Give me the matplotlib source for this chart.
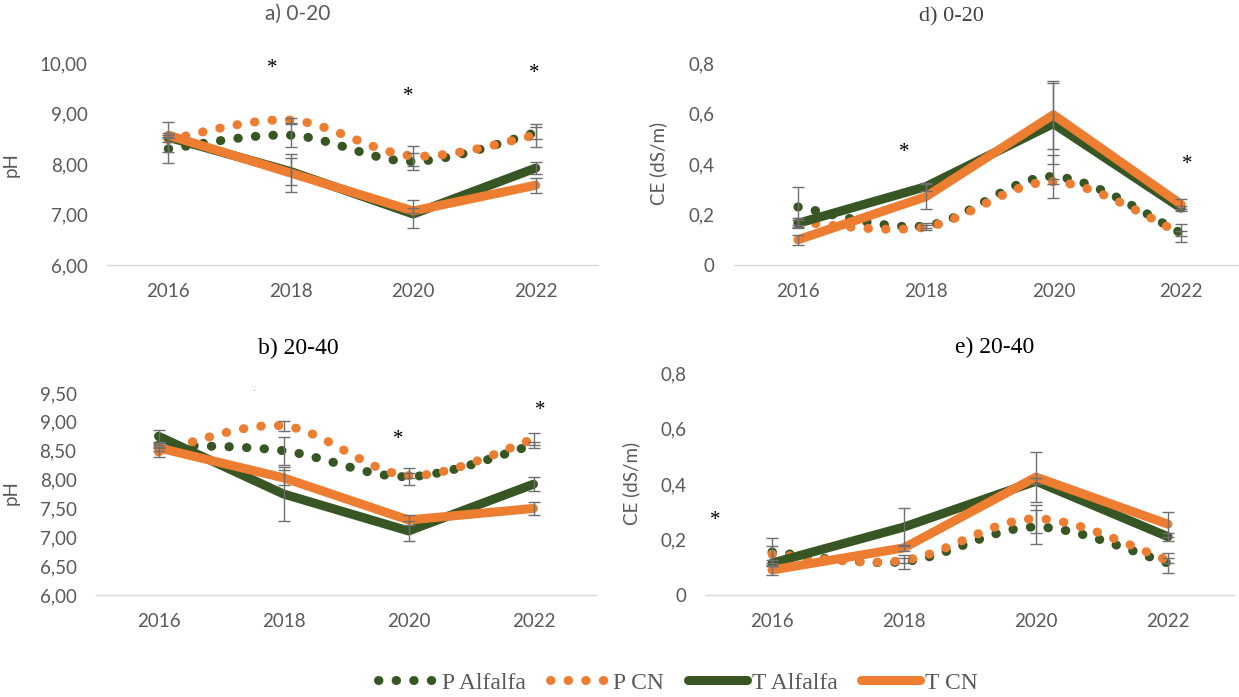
import matplotlib
matplotlib.use("Agg")
import matplotlib.pyplot as plt
from matplotlib.path import Path
from matplotlib.patches import PathPatch
from matplotlib.lines import Line2D
from matplotlib.ticker import FuncFormatter
import numpy as np

# ---------------- data ----------------
years = ["2016", "2018", "2020", "2022"]
series_names = ["P Alfalfa", "P CN", "T Alfalfa", "T CN"]

# a) pH 0-20
ph020_p_alfalfa = [8.30, 8.57, 8.05, 8.62]
ph020_p_cn = [8.48, 8.87, 8.16, 8.57]
ph020_t_alfalfa = [8.53, 7.85, 7.01, 7.92]
ph020_t_cn = [8.57, 7.82, 7.07, 7.58]
ph020_err_p_alfalfa = [0.28, 0.23, 0.17, 0.12]
ph020_err_p_cn = [0.05, 0.05, 0.20, 0.23]
ph020_err_t_alfalfa = [0.30, 0.27, 0.27, 0.12]
ph020_err_t_cn = [0.05, 0.37, 0.05, 0.15]

# b) pH 20-40
ph2040_p_alfalfa = [8.60, 8.50, 8.05, 8.60]
ph2040_p_cn = [8.48, 8.93, 8.07, 8.70]
ph2040_t_alfalfa = [8.75, 7.75, 7.11, 7.92]
ph2040_t_cn = [8.55, 8.03, 7.30, 7.50]
ph2040_err_p_alfalfa = [0.05, 0.24, 0.15, 0.05]
ph2040_err_p_cn = [0.09, 0.09, 0.05, 0.10]
ph2040_err_t_alfalfa = [0.11, 0.47, 0.17, 0.12]
ph2040_err_t_cn = [0.05, 0.13, 0.08, 0.11]

# d) CE 0-20
ce020_p_alfalfa = [0.23, 0.155, 0.35, 0.127]
ce020_p_cn = [0.17, 0.15, 0.33, 0.125]
ce020_t_alfalfa = [0.165, 0.31, 0.56, 0.225]
ce020_t_cn = [0.10, 0.27, 0.595, 0.24]
ce020_err_p_alfalfa = [0.08, 0.01, 0.085, 0.035]
ce020_err_p_cn = [0.01, 0.01, 0.01, 0.01]
ce020_err_t_alfalfa = [0.02, 0.015, 0.16, 0.01]
ce020_err_t_cn = [0.02, 0.05, 0.135, 0.02]

# e) CE 20-40
ce2040_p_alfalfa = [0.155, 0.12, 0.245, 0.115]
ce2040_p_cn = [0.147, 0.125, 0.275, 0.125]
ce2040_t_alfalfa = [0.115, 0.245, 0.41, 0.21]
ce2040_t_cn = [0.09, 0.17, 0.425, 0.255]
ce2040_err_p_alfalfa = [0.05, 0.025, 0.06, 0.035]
ce2040_err_p_cn = [0.03, 0.01, 0.05, 0.01]
ce2040_err_t_alfalfa = [0.01, 0.07, 0.01, 0.015]
ce2040_err_t_cn = [0.018, 0.01, 0.09, 0.045]

# significance marks: (category position, value)
stars_a = [(0.85, 10.0), (1.96, 9.45), (2.99, 9.9)]
stars_b = [(1.92, 8.79), (3.05, 9.29)]
stars_d = [(0.83, 0.467), (3.05, 0.42)]
stars_e = [(-0.43, 0.29)]

# ---------------- style ----------------
GREEN = "#375623"
ORANGE = "#ED7D31"
GREY = "#595959"
W, H = 1239, 697
SANS = "Lato"
SERIF = "Liberation Serif"
LW = 6.5
DOT = (0, (0.05, 1.9))

fig = plt.figure(figsize=(W / 100, H / 100), dpi=100)


def px_axes(left, right, top, bottom):
    return fig.add_axes([left / W, 1 - bottom / H, (right - left) / W, (bottom - top) / H])


def smooth_path(x, y):
    pts = np.column_stack([x, y]).astype(float)
    n = len(pts)
    verts = [pts[0]]
    codes = [Path.MOVETO]
    for i in range(n - 1):
        p0 = pts[i - 1] if i > 0 else pts[i]
        p1 = pts[i]
        p2 = pts[i + 1]
        p3 = pts[i + 2] if i + 2 < n else pts[i + 1]
        verts += [p1 + (p2 - p0) / 6, p2 - (p3 - p1) / 6, p2]
        codes += [Path.CURVE4] * 3
    return Path(verts, codes)


def draw_panel(ax, box, vals, errs, ylim, yticks, fmt, title, title_xy, title_font,
               ylabel, ylabel_xy, stars):
    left, right, top, bottom = box
    x = np.arange(len(years))
    pa, pc, ta, tc = vals
    # dotted smoothed series
    for v, c, z in ((pa, GREEN, 2), (pc, ORANGE, 3)):
        patch = PathPatch(smooth_path(x, v), fill=False, edgecolor=c, linewidth=LW,
                          linestyle=DOT, capstyle="round", zorder=z)
        ax.add_patch(patch)
    # solid series
    ax.plot(x, ta, color=GREEN, lw=LW, solid_capstyle="round", solid_joinstyle="round", zorder=4)
    ax.plot(x, tc, color=ORANGE, lw=LW, solid_capstyle="round", solid_joinstyle="round", zorder=5)
    # error bars
    for v, e in zip(vals, errs):
        ax.errorbar(x, v, yerr=e, fmt="none", ecolor="#6F6F6F", elinewidth=1.0,
                    capsize=4.5, capthick=1.0, zorder=6)
    ax.set_xlim(-0.5, len(years) - 0.5)
    ax.set_ylim(*ylim)
    ax.set_xticks(x)
    ax.set_xticklabels(years)
    ax.set_yticks(yticks)
    ax.yaxis.set_major_formatter(FuncFormatter(fmt))
    for s in ("top", "right", "left"):
        ax.spines[s].set_visible(False)
    ax.spines["bottom"].set_color("#D9D9D9")
    ax.spines["bottom"].set_linewidth(1.0)
    ax.tick_params(axis="both", length=0, labelcolor=GREY, labelsize=13.5)
    ax.tick_params(axis="x", pad=13)
    ax.tick_params(axis="y", pad=14)
    for lab in ax.get_xticklabels() + ax.get_yticklabels():
        lab.set_fontfamily(SANS)
    ax.set_facecolor("none")
    # y label
    ax.set_ylabel(ylabel, fontsize=13.5, color=GREY, family=SANS)
    ax.yaxis.set_label_coords((ylabel_xy[0] - left) / (right - left),
                              (bottom - ylabel_xy[1]) / (bottom - top))
    # title
    fam, size, col = title_font
    ax.set_title(title, family=fam, fontsize=size, color=col,
                 x=(title_xy[0] - left) / (right - left),
                 y=(bottom - title_xy[1]) / (bottom - top), va="center")
    for sx, sy in stars:
        ax.annotate("*", (sx, sy), xytext=(0, -4), textcoords="offset points",
                    ha="center", va="center", fontsize=15, family=SERIF,
                    color="black", annotation_clip=False)


fmt_ph = lambda v, p: f"{v:.2f}".replace(".", ",")
fmt_ce = lambda v, p: "0" if abs(v) < 1e-9 else f"{v:.1f}".replace(".", ",")

box_a = (107, 597, 63, 265)
box_d = (734, 1245, 63, 265)
box_b = (96, 596, 393, 595)
box_e = (706, 1234, 373, 595)

ax_a = px_axes(*box_a)
draw_panel(ax_a, box_a,
           (ph020_p_alfalfa, ph020_p_cn, ph020_t_alfalfa, ph020_t_cn),
           (ph020_err_p_alfalfa, ph020_err_p_cn, ph020_err_t_alfalfa, ph020_err_t_cn),
           (6, 10), np.arange(6, 10.01, 1.0), fmt_ph,
           "a) 0-20", (298, 22), (SANS, 15, GREY), "pH", (20, 165), stars_a)

ax_d = px_axes(*box_d)
draw_panel(ax_d, box_d,
           (ce020_p_alfalfa, ce020_p_cn, ce020_t_alfalfa, ce020_t_cn),
           (ce020_err_p_alfalfa, ce020_err_p_cn, ce020_err_t_alfalfa, ce020_err_t_cn),
           (0, 0.8), np.arange(0, 0.81, 0.2), fmt_ce,
           "d) 0-20", (951, 25), (SERIF, 16, "#404040"), "CE (dS/m)", (667, 163), stars_d)

ax_b = px_axes(*box_b)
draw_panel(ax_b, box_b,
           (ph2040_p_alfalfa, ph2040_p_cn, ph2040_t_alfalfa, ph2040_t_cn),
           (ph2040_err_p_alfalfa, ph2040_err_p_cn, ph2040_err_t_alfalfa, ph2040_err_t_cn),
           (6, 9.5), np.arange(6, 9.51, 0.5), fmt_ph,
           "b) 20-40", (298, 357), (SERIF, 17, "black"), "pH", (20, 493), stars_b)
ax_b.text(0.756, 9.52, "·", ha="center", va="center", fontsize=6, color="#555555", clip_on=False)

ax_e = px_axes(*box_e)
draw_panel(ax_e, box_e,
           (ce2040_p_alfalfa, ce2040_p_cn, ce2040_t_alfalfa, ce2040_t_cn),
           (ce2040_err_p_alfalfa, ce2040_err_p_cn, ce2040_err_t_alfalfa, ce2040_err_t_cn),
           (0, 0.8), np.arange(0, 0.81, 0.2), fmt_ce,
           "e) 20-40", (995, 356), (SERIF, 17, "black"), "CE (dS/m)", (640, 483), stars_e)

# legend
handles = [
    Line2D([], [], color=GREEN, lw=LW, linestyle=DOT, dash_capstyle="round"),
    Line2D([], [], color=ORANGE, lw=LW, linestyle=DOT, dash_capstyle="round"),
    Line2D([], [], color=GREEN, lw=LW, solid_capstyle="round"),
    Line2D([], [], color=ORANGE, lw=LW, solid_capstyle="round"),
]
leg = fig.legend(handles, series_names, loc="center", bbox_to_anchor=(678 / W, 1 - 683 / H),
                 ncol=4, frameon=False, prop={"family": SERIF, "size": 17},
                 handlelength=2.5, handletextpad=0.2, columnspacing=1.0)
for t in leg.get_texts():
    t.set_color(GREY)

fig.savefig("out.png", dpi=100)
